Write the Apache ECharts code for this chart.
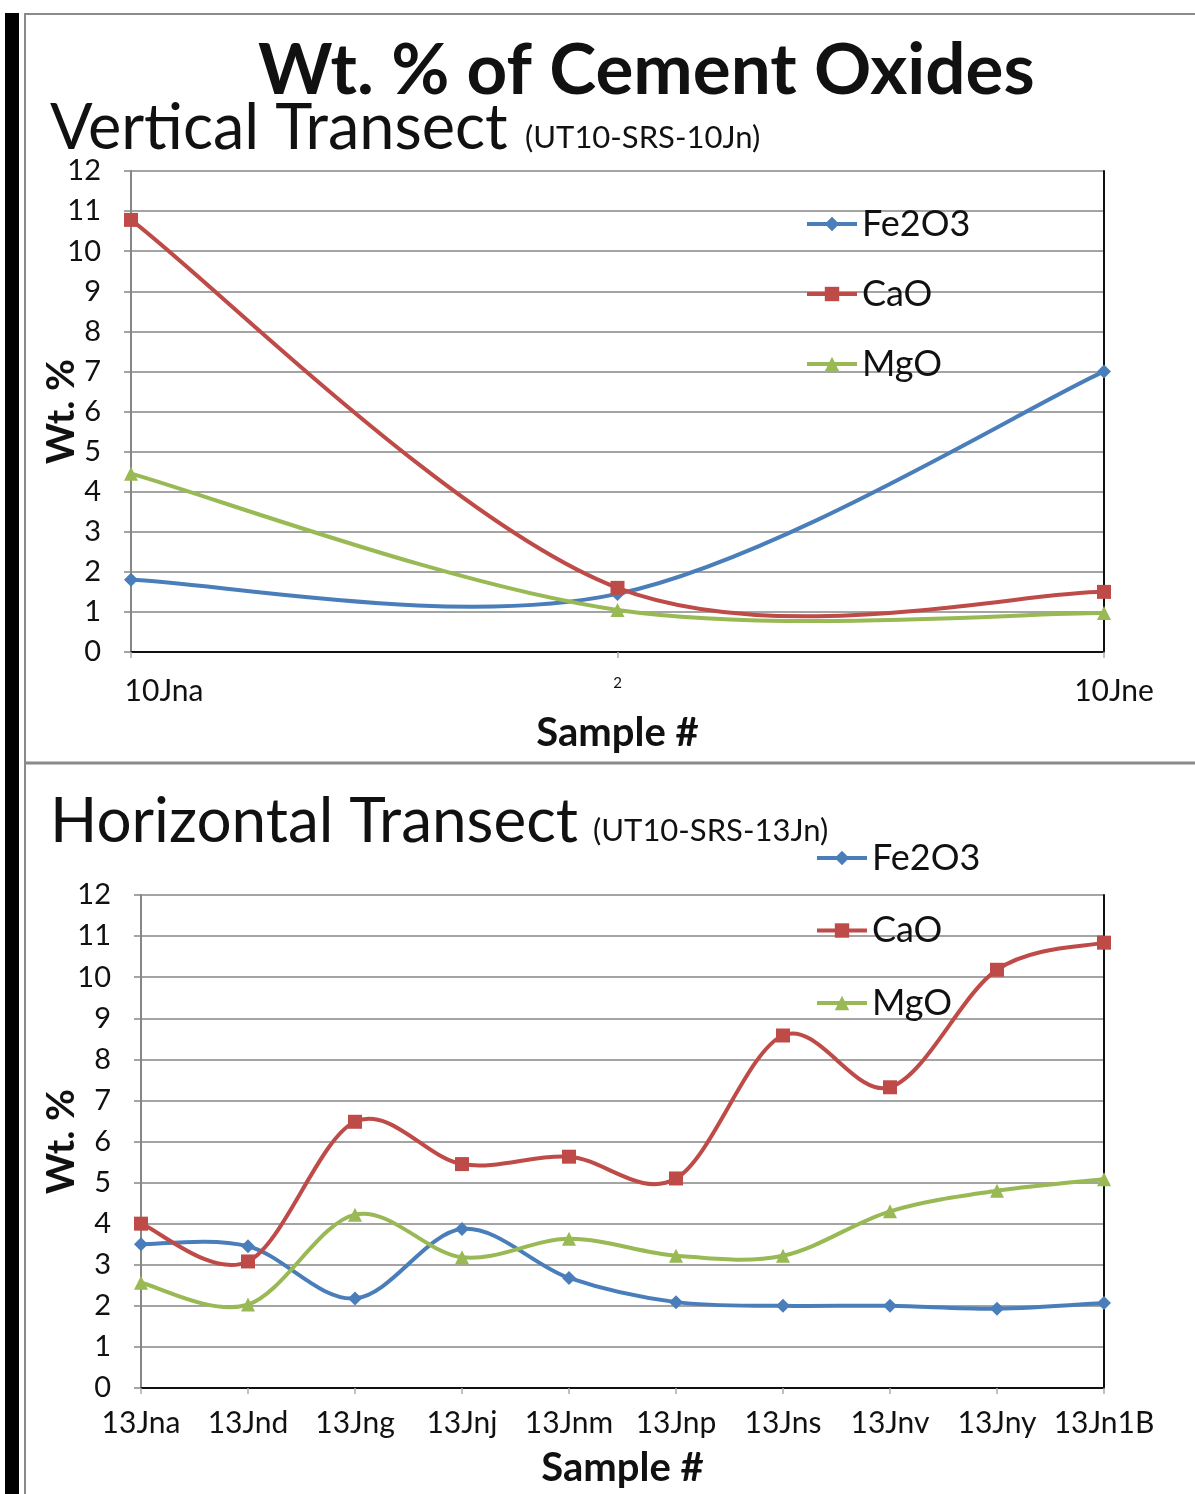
<!DOCTYPE html>
<html><head><meta charset="utf-8">
<script src="https://cdn.jsdelivr.net/npm/echarts@6/dist/echarts.min.js"></script>
<style>html,body{margin:0;padding:0;background:#fff}#c{width:1195px;height:1494px}</style>
</head><body><div id="c"></div>
<script>
// ---- data ----
const seriesNames = ['Fe2O3', 'CaO', 'MgO'];
const vCategories = ['10Jna', '2', '10Jne'];
const vFe2O3 = [1.8, 1.45, 7.0];
const vCaO = [10.78, 1.6, 1.5];
const vMgO = [4.45, 1.05, 0.97];
const hCategories = ['13Jna', '13Jnd', '13Jng', '13Jnj', '13Jnm', '13Jnp', '13Jns', '13Jnv', '13Jny', '13Jn1B'];
const hFe2O3 = [3.5, 3.45, 2.18, 3.87, 2.68, 2.09, 2.0, 2.0, 1.93, 2.07];
const hCaO = [4.0, 3.08, 6.48, 5.45, 5.63, 5.1, 8.58, 7.32, 10.18, 10.84];
const hMgO = [2.56, 2.03, 4.22, 3.18, 3.63, 3.22, 3.22, 4.3, 4.8, 5.08];
const yMin = 0, yMax = 12, yStep = 1;

// ---- styles ----
const FONT = 'Lato, "Open Sans", sans-serif';
const colors = { Fe2O3: '#4A7EBB', CaO: '#BE4B48', MgO: '#98B954' };
const symbols = { Fe2O3: 'diamond', CaO: 'rect', MgO: 'triangle' };
const symSize = { Fe2O3: 14, CaO: 14, MgO: 14 };
const LINE_W = 4;
const GRID_C = '#868686';

const chart = echarts.init(document.getElementById('c'), null, { renderer: 'canvas' });

function yAxisCfg(gridIndex, nameGap) {
  return {
    type: 'value', gridIndex, min: yMin, max: yMax, interval: yStep,
    name: 'Wt. %', nameLocation: 'middle', nameGap: nameGap, nameRotate: 90, nameMoveOverlap: false,
    nameTextStyle: { fontFamily: FONT, fontWeight: 'bold', fontSize: 39, color: '#111' },
    axisLine: { show: true, lineStyle: { color: GRID_C, width: 2 } },
    axisTick: { show: true, inside: false, length: 7, lineStyle: { color: GRID_C, width: 1.5 } },
    axisLabel: { fontFamily: FONT, fontSize: 29, color: '#111', margin: 30 },
    splitLine: { show: true, lineStyle: { color: GRID_C, width: 1.5 } }
  };
}
function xAxisCfg(gridIndex, cats, extra) {
  return Object.assign({
    type: 'category', gridIndex, data: cats, boundaryGap: false,
    name: 'Sample #', nameLocation: 'middle', nameMoveOverlap: false,
    nameTextStyle: { fontFamily: FONT, fontWeight: 'bold', fontSize: 40, color: '#111' },
    axisLine: { show: true, lineStyle: { color: GRID_C, width: 2 } },
    axisTick: { show: true, inside: false, length: 6, lineStyle: { color: '#aaa', width: 1.5 } },
    splitLine: { show: false }
  }, extra);
}
function borderX(gridIndex) {
  return { type: 'category', gridIndex, position: 'top', data: [], boundaryGap: false,
    axisLine: { show: true, lineStyle: { color: '#111', width: 2 } },
    axisTick: { show: false }, axisLabel: { show: false }, splitLine: { show: false } };
}
function borderY(gridIndex) {
  return { type: 'value', gridIndex, position: 'right', min: yMin, max: yMax,
    axisLine: { show: true, lineStyle: { color: '#111', width: 2 } },
    axisTick: { show: false }, axisLabel: { show: false }, splitLine: { show: false } };
}
// markers (and legend entry) through a line series
function mkMarkers(name, data, xi, yi) {
  return {
    type: 'line', name, data, xAxisIndex: xi, yAxisIndex: yi,
    symbol: symbols[name], symbolSize: symSize[name], showSymbol: true,
    lineStyle: { color: colors[name], width: LINE_W, opacity: 0 },
    itemStyle: { color: colors[name] }, z: 6
  };
}
// Excel-style smoothed curve (Catmull-Rom) through the points, positioned with api.coord
function mkCurve(name, data, xi, yi) {
  return {
    type: 'custom', name: name + ' curve', xAxisIndex: xi, yAxisIndex: yi, z: 4,
    data: data.map((v, i) => [i, v]),
    encode: { x: 0, y: 1 },
    renderItem: function (params, api) {
      if (params.dataIndexInside !== 0) return null;
      const n = params.dataInsideLength;
      const pts = [];
      for (let i = 0; i < n; i++) pts.push(api.coord([api.value(0, i), api.value(1, i)]));
      let d = 'M' + pts[0][0] + ' ' + pts[0][1];
      for (let i = 0; i < n - 1; i++) {
        const p0 = pts[Math.max(i - 1, 0)], p1 = pts[i], p2 = pts[i + 1], p3 = pts[Math.min(i + 2, n - 1)];
        const c1x = p1[0] + (p2[0] - p0[0]) / 6, c1y = p1[1] + (p2[1] - p0[1]) / 6;
        const c2x = p2[0] - (p3[0] - p1[0]) / 6, c2y = p2[1] - (p3[1] - p1[1]) / 6;
        d += ' C' + c1x + ' ' + c1y + ' ' + c2x + ' ' + c2y + ' ' + p2[0] + ' ' + p2[1];
      }
      return {
        type: 'path', shape: { pathData: d },
        style: { fill: null, stroke: colors[name], lineWidth: LINE_W, lineJoin: 'round', lineCap: 'round' }
      };
    }
  };
}

const vData = { Fe2O3: vFe2O3, CaO: vCaO, MgO: vMgO };
const hData = { Fe2O3: hFe2O3, CaO: hCaO, MgO: hMgO };

const legendCommon = {
  data: seriesNames, orient: 'vertical', itemWidth: 50, itemHeight: 18, padding: 0, selectedMode: false,
  lineStyle: { width: 4, opacity: 1 },
  textStyle: { fontFamily: FONT, fontSize: 36, color: '#111', lineHeight: 36 }
};

const option = {
  backgroundColor: '#ffffff',
  animation: false,
  title: [
    { text: 'Wt. % of Cement Oxides', left: 258, top: 36, padding: 0,
      textStyle: { fontFamily: FONT, fontWeight: 'bold', fontSize: 71, color: '#111' } },
    { text: 'Vertical Transect', left: 50, top: 97, padding: 0,
      textStyle: { fontFamily: FONT, fontWeight: 'normal', fontSize: 63, color: '#111' } },
    { text: '(UT10-SRS-10Jn)', left: 525, top: 122, padding: 0,
      textStyle: { fontFamily: FONT, fontWeight: 'normal', fontSize: 31, color: '#111' } },
    { text: 'Horizontal Transect', left: 50, top: 791, padding: 0,
      textStyle: { fontFamily: FONT, fontWeight: 'normal', fontSize: 62, color: '#111' } },
    { text: '(UT10-SRS-13Jn)', left: 593, top: 815, padding: 0,
      textStyle: { fontFamily: FONT, fontWeight: 'normal', fontSize: 31, color: '#111' } }
  ],
  legend: [
    Object.assign({ left: 805, top: 206, itemGap: 34 }, legendCommon),
    Object.assign({ left: 815, top: 840, itemGap: 36.5 }, legendCommon)
  ],
  grid: [
    { left: 131, top: 171, width: 973, height: 481, containLabel: false },
    { left: 141, top: 895, width: 963, height: 493, containLabel: false }
  ],
  xAxis: [
    xAxisCfg(0, vCategories, {
      nameGap: 61,
      axisLabel: {
        fontFamily: FONT, fontSize: 29, color: '#111', margin: 24, interval: 0,
        formatter: function (v, i) {
          if (i === 0) return '{a|' + v + '}';
          if (i === vCategories.length - 1) return '{b|' + v + '}';
          return '{s|' + v + '}';
        },
        rich: {
          a: { fontFamily: FONT, fontSize: 30, color: '#111', padding: [0, 0, 0, 66] },
          b: { fontFamily: FONT, fontSize: 30, color: '#111', padding: [0, 0, 0, 20] },
          s: { fontFamily: FONT, fontSize: 15, color: '#111' }
        }
      }
    }),
    xAxisCfg(1, hCategories, {
      nameGap: 60,
      axisLabel: { fontFamily: FONT, fontSize: 30, color: '#111', margin: 20, interval: 0 }
    }),
    borderX(0), borderX(1)
  ],
  yAxis: [yAxisCfg(0, 50), yAxisCfg(1, 60), borderY(0), borderY(1)],
  series: [
    ...seriesNames.map(n => mkCurve(n, vData[n], 0, 0)),
    ...seriesNames.map(n => mkCurve(n, hData[n], 1, 1)),
    ...seriesNames.map(n => mkMarkers(n, vData[n], 0, 0)),
    ...seriesNames.map(n => mkMarkers(n, hData[n], 1, 1))
  ],
  graphic: [
    { type: 'rect', shape: { x: 5, y: 13, width: 14, height: 1481 }, style: { fill: '#000' }, silent: true },
    { type: 'line', shape: { x1: 24, y1: 14, x2: 1195, y2: 14 }, style: { stroke: '#8a8a8a', lineWidth: 2 }, silent: true },
    { type: 'line', shape: { x1: 25, y1: 14, x2: 25, y2: 1494 }, style: { stroke: '#8a8a8a', lineWidth: 2 }, silent: true },
    { type: 'line', shape: { x1: 24, y1: 763, x2: 1195, y2: 763 }, style: { stroke: '#8a8a8a', lineWidth: 3 }, silent: true }
  ]
};
chart.setOption(option);
</script>
</body></html>
